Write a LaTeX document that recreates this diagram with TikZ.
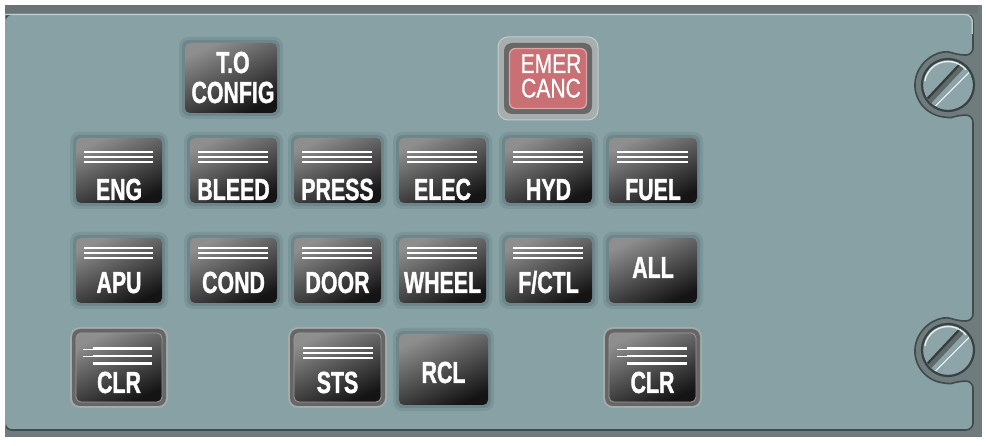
\documentclass[tikz,border=0pt]{standalone}
\usepackage{fontspec}
\newfontfamily\keyfont[FakeStretch=0.7,FakeBold=1.2]{Liberation Sans}
\newfontfamily\emerfont[FakeStretch=0.78,FakeBold=0.8]{Liberation Sans}
\usetikzlibrary{calc}
\definecolor{panel}{HTML}{87A1A5}
\definecolor{frame}{HTML}{6F7B7C}
\definecolor{topband}{HTML}{6B7475}
\definecolor{frameline}{HTML}{3F4B4C}
\definecolor{toplight}{HTML}{C2CFD0}
\definecolor{haloA}{HTML}{6E868A}
\definecolor{haloB}{HTML}{7C9599}
\definecolor{keytop}{HTML}{8E8E8E}
\definecolor{keybot}{HTML}{141414}
\definecolor{bezelouter}{HTML}{A3ABAB}
\definecolor{bezelring}{HTML}{666666}
\definecolor{keyrim}{HTML}{9A9A9A}
\definecolor{emerouter}{HTML}{A6AEAE}
\definecolor{emeredge}{HTML}{C6CCCC}
\definecolor{emerring}{HTML}{686868}
\definecolor{emerred}{HTML}{C87074}
\definecolor{emerrim}{HTML}{E3A3A6}
\definecolor{screwface}{HTML}{8DA5A9}
\definecolor{screwedge}{HTML}{374244}
\definecolor{slotdark}{HTML}{5E6968}
\definecolor{slotdeep}{HTML}{343D3E}
\tikzset{
  keylabel/.style={text=white, font=\keyfont\bfseries\fontsize{30.5}{32}\selectfont, inner sep=0pt, anchor=base},
  emerlabel/.style={text=white, font=\emerfont\fontsize{27}{29}\selectfont, inner sep=0pt, anchor=base},
  stripe/.style={white, line width=1.4pt},
  keyshade/.style={top color=keytop, bottom color=keybot, shading angle=25},
}
\newcommand{\flatkey}[4]{%
  \fill[haloB, rounded corners=9pt] (#1-6,#2-6) rectangle (#3+6,#4+6);
  \fill[haloA, rounded corners=7pt] (#1-3,#2-3) rectangle (#3+3,#4+3);
  \shade[keyshade, rounded corners=5pt] (#1,#2) rectangle (#3,#4);
}
\newcommand{\bezelkey}[4]{%
  \fill[bezelouter, rounded corners=10pt] (#1,#2) rectangle (#3,#4);
  \fill[bezelring, rounded corners=8pt] (#1+2,#2+2) rectangle (#3-2,#4-2);
  \shadedraw[keyshade, draw=keyrim, line width=0.8pt, rounded corners=5pt] (#1+6,#2+6) rectangle (#3-6,#4-6);
}
\newcommand{\stripes}[3]{%
  \foreach \d in {0,5,10} {\draw[stripe] (#1,#3+\d) -- (#2,#3+\d);}
}
\newcommand{\clrstripes}[4]{%
  \draw[white, line width=1pt] (#1,#4+1) -- (#2,#4+1);
  \draw[white, line width=1pt] (#1,#4+8.5) -- (#2,#4+8.5);
  \foreach \d in {0,7.5,15} {\draw[white, line width=2.8pt] (#2,#4+\d) -- (#3,#4+\d);}
}
\newcommand{\screw}[2]{%
  \fill[screwface] (#1,#2) circle (26);
  \begin{scope}
    \clip (#1,#2) circle (24.5);
    \draw[slotdark, line width=6pt] (#1-32,#2+30) -- (#1+28,#2-34);
    \draw[slotdeep, line width=2.2pt] (#1-34,#2+28) -- (#1+26,#2-36);
    \draw[white, line width=1pt] (#1-26.5,#2+35) -- (#1+33.5,#2-25);
  \end{scope}
  \draw[white!80!screwface, line width=1.4pt] (#1,#2) ++(190:23.5) arc[start angle=190, end angle=320, radius=23.5];
  \draw[screwedge, line width=2.2pt] (#1,#2) circle (26);
}
\begin{document}
\begin{tikzpicture}[x=1pt,y=-1pt]
\useasboundingbox (0,0) rectangle (986,446);
\fill[white] (0,0) rectangle (986,446);
% frame
\fill[frame] (5,5) rectangle (982,437);
\fill[topband] (5,5) rectangle (978,13);
% panel
\fill[panel, rounded corners=7pt] (5,14) -- (973,14) -- (973,55) -- (957.9,55)
  arc[start angle=-70, end angle=-290, radius=32] -- (973,115.1) -- (973,321) -- (957.9,321)
  arc[start angle=-70, end angle=-290, radius=32] -- (973,381.1) -- (973,430) -- (5,430) -- cycle;
\begin{scope}
  \clip (6,16) rectangle (986,446);
  \draw[frameline, line width=1.6pt, rounded corners=7pt] (5,14) -- (973,14) -- (973,55) -- (957.9,55)
    arc[start angle=-70, end angle=-290, radius=32] -- (973,115.1) -- (973,321) -- (957.9,321)
    arc[start angle=-70, end angle=-290, radius=32] -- (973,381.1) -- (973,430) -- (5,430) -- cycle;
\end{scope}
\draw[toplight, line width=1.3pt, rounded corners=7pt] (5,14.6) -- (972.3,14.6) -- (972.3,34);
% screws
\screw{948}{85}
\screw{948}{350}
% T.O CONFIG
\flatkey{185}{43}{277}{113}
\node[keylabel] (toA) at (233,73) {T.O};
\node[keylabel] (toB) at (233,103) {CONFIG};
% EMER CANC
\fill[emerouter, draw=emeredge, line width=1pt, rounded corners=10pt] (498,37) rectangle (598,120);
\fill[emerring, rounded corners=8pt] (504,43) rectangle (592,114);
\filldraw[fill=emerred, draw=emerrim, line width=1.3pt, rounded corners=6pt] (509.5,48.5) rectangle (586.5,108.5);
\node[emerlabel] (emA) at (551,73) {EMER};
\node[emerlabel] (emB) at (551,97.5) {CANC};
% row 1
\flatkey{76}{138}{162}{203}  \stripes{84}{153}{152}
\flatkey{190}{138}{277}{203} \stripes{198}{268}{152}
\flatkey{294}{138}{381}{203} \stripes{302}{372}{152}
\flatkey{399}{138}{486}{203} \stripes{407}{477}{152}
\flatkey{505}{138}{592}{203} \stripes{513}{583}{152}
\flatkey{609}{138}{697}{203} \stripes{617}{688}{152}
\node[keylabel] (eng) at (119,200) {ENG};
\node[keylabel] (bleed) at (233.5,200) {BLEED};
\node[keylabel] (press) at (337.5,200) {PRESS};
\node[keylabel] (elec) at (442.5,200) {ELEC};
\node[keylabel] (hyd) at (548.5,200) {HYD};
\node[keylabel] (fuel) at (653,200) {FUEL};
% row 2
\flatkey{76}{238}{162}{303}  \stripes{84}{153}{248}
\flatkey{190}{238}{277}{303} \stripes{198}{268}{248}
\flatkey{294}{238}{381}{303} \stripes{302}{372}{248}
\flatkey{399}{238}{486}{303} \stripes{407}{477}{248}
\flatkey{505}{238}{592}{303} \stripes{513}{583}{248}
\flatkey{609}{238}{697}{303}
\node[keylabel] (apu) at (119,293) {APU};
\node[keylabel] (cond) at (233.5,293) {COND};
\node[keylabel] (door) at (337.5,293) {DOOR};
\node[keylabel] (wheel) at (442.5,293) {WHEEL};
\node[keylabel] (fctl) at (548.5,293) {F/CTL};
\node[keylabel] (all) at (653,278) {ALL};
% row 3
\bezelkey{70}{327}{168}{408}  \clrstripes{83}{93}{152}{348.5}
\bezelkey{288}{327}{387}{408} \stripes{303}{373}{348}
\flatkey{399}{334}{488}{405}
\bezelkey{603}{327}{702}{408} \clrstripes{617}{627}{687}{348.5}
\node[keylabel] (clrA) at (119,393) {CLR};
\node[keylabel] (sts) at (337.5,393) {STS};
\node[keylabel] (rcl) at (443.5,383) {RCL};
\node[keylabel] (clrB) at (652.5,393) {CLR};
\end{tikzpicture}
\end{document}
